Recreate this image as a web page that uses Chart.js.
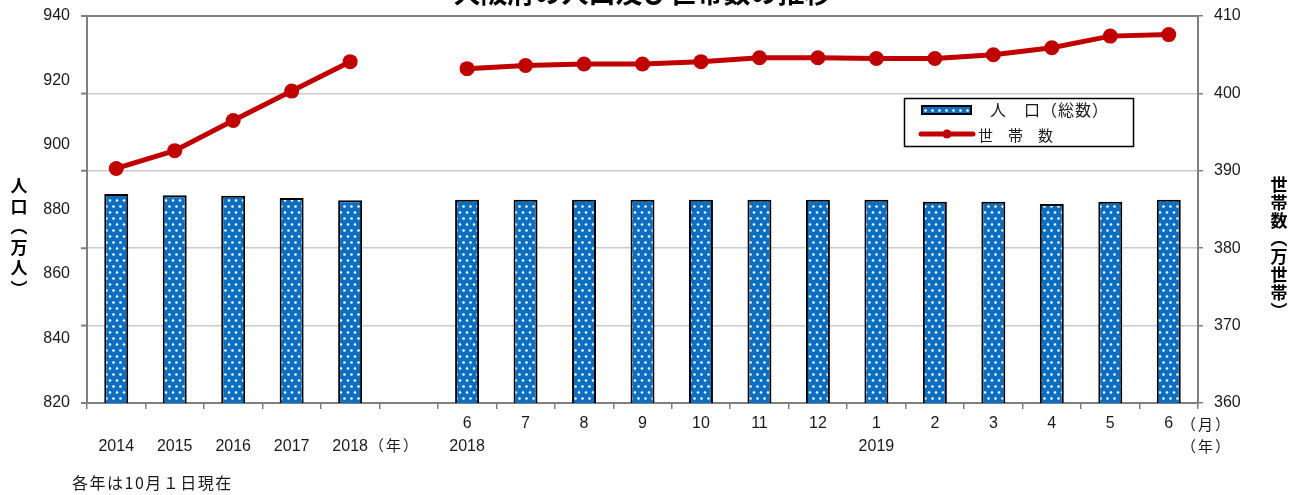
<!DOCTYPE html>
<html lang="ja">
<head>
<meta charset="UTF-8">
<title>大阪府の人口及び世帯数の推移</title>
<script src="https://cdn.jsdelivr.net/npm/chart.js@4.4.1/dist/chart.umd.min.js"></script>
<style>
  html, body { margin: 0; padding: 0; background: #fff; overflow: hidden; }
  .wrap { position: relative; width: 1290px; height: 495px; }
</style>
</head>
<body>
<div class="wrap">
  <canvas id="chart" width="1290" height="495"></canvas>
</div>
<script>
// data
const monthRow = ['', '', '', '', '', '', '6', '7', '8', '9', '10', '11', '12', '1', '2', '3', '4', '5', '6'];
const yearRow  = ['2014', '2015', '2016', '2017', '2018', '', '2018', '', '', '', '', '', '', '2019', '', '', '', '', ''];
const population = [884.8, 884.4, 884.3, 883.6, 882.9, null, 883.0, 883.0, 883.0, 883.0, 883.0, 883.0, 883.0, 883.0, 882.4, 882.4, 881.7, 882.4, 883.0];
const households = [390.3, 392.6, 396.5, 400.3, 404.1, null, 403.2, 403.6, 403.8, 403.8, 404.1, 404.6, 404.6, 404.5, 404.5, 405.0, 405.9, 407.4, 407.6];
const popAxis = { min: 820, max: 940, step: 20 };
const hhAxis = { min: 360, max: 410, step: 10 };
const leftTitle = ['人', '口', '︵', '万', '人', '︶'];
const rightTitle = ['世', '帯', '数', '︵', '万', '世', '帯', '︶'];

const numFont = "'Liberation Sans', Arial, sans-serif";
const jpFont = "'Noto Sans CJK JP', sans-serif";
const axisGray = '#7f7f7f';
const textColor = '#1a1a1a';
const barBlue = '#0b6fc1';
const lineRed = '#c00000';

// blue fill with white dots
function dotPattern() {
    const c = document.createElement('canvas');
    c.width = 7; c.height = 12;
    const g = c.getContext('2d');
    g.fillStyle = barBlue;
    g.fillRect(0, 0, 7, 12);
    g.fillStyle = '#ffffff';
    [[1.5, 2.5], [5, 8.5]].forEach(p => {
        g.beginPath();
        g.arc(p[0], p[1], 1.3, 0, Math.PI * 2);
        g.fill();
    });
    return g.createPattern(c, 'repeat');
}
const ctx = document.getElementById('chart').getContext('2d');
const dots = dotPattern();

const labels = monthRow.map((m, i) => [m, yearRow[i]]);

// title, frame bits, legend and notes
const extras = {
    id: 'extras',
    afterDraw(chart) {
        const c = chart.ctx;
        const a = chart.chartArea;
        const y1 = chart.scales.y1;
        const x = chart.scales.x;
        c.save();

        // title (clipped at the top of the page)
        c.fillStyle = '#000';
        c.font = 'bold 27px ' + jpFont;
        c.textAlign = 'center';
        c.textBaseline = 'alphabetic';
        c.fillText('大阪府の人口及び世帯数の推移', (a.left + a.right) / 2, 3);

        // vertical axis titles
        c.font = 'bold 17px ' + jpFont;
        c.textBaseline = 'middle';
        leftTitle.forEach((ch, i) => c.fillText(ch, 19, 186 + i * 20.5));
        rightTitle.forEach((ch, i) => c.fillText(ch, 1279, 185 + i * 18));

        // top frame line and left tick marks
        c.strokeStyle = axisGray;
        c.lineWidth = 2;
        c.beginPath();
        c.moveTo(a.left, a.top);
        c.lineTo(a.right, a.top);
        y1.ticks.forEach(t => {
            const py = y1.getPixelForValue(t.value);
            c.moveTo(a.left - 6, py);
            c.lineTo(a.left, py);
        });
        c.stroke();

        // legend
        const lx = 904, ly = 98, lw = 229, lh = 48;
        c.strokeStyle = '#000';
        c.lineWidth = 1.5;
        c.strokeRect(lx + 0.5, ly + 0.5, lw, lh);
        c.fillStyle = dots;
        c.fillRect(lx + 18, ly + 8, 49, 8);
        c.lineWidth = 2;
        c.strokeRect(lx + 18, ly + 8, 49, 8);
        c.strokeStyle = lineRed;
        c.lineWidth = 5;
        c.lineCap = 'round';
        c.beginPath();
        c.moveTo(lx + 17, ly + 36);
        c.lineTo(lx + 69, ly + 36);
        c.stroke();
        c.fillStyle = lineRed;
        c.beginPath();
        c.arc(lx + 43, ly + 36, 4.5, 0, Math.PI * 2);
        c.fill();
        c.fillStyle = textColor;
        c.font = '16px ' + jpFont;
        c.textAlign = 'left';
        c.letterSpacing = '1px';
        c.fillText('人　口（総数）', lx + 86, ly + 12);
        c.letterSpacing = '0px';
        c.font = '15px ' + jpFont;
        c.fillText('世　帯　数', lx + 74, ly + 37);

        // axis unit notes
        c.font = '15px ' + jpFont;
        c.letterSpacing = '2px';
        c.textAlign = 'center';
        c.fillText('（年）', x.getPixelForValue(5) - 14, a.bottom + 42);
        c.textAlign = 'left';
        c.fillText('（月）', a.right - 17, a.bottom + 21);
        c.fillText('（年）', a.right - 17, a.bottom + 43);

        // footnote
        c.font = '16px ' + jpFont;
        c.letterSpacing = '1.5px';
        c.fillText('各年は10月１日現在', 72, a.bottom + 80);
        c.restore();
    }
};

new Chart(ctx, {
    type: 'bar',
    data: {
        labels: labels,
        datasets: [{
            type: 'line',
            label: '世帯数',
            data: households,
            yAxisID: 'y1',
            borderColor: lineRed,
            backgroundColor: lineRed,
            borderWidth: 5,
            pointRadius: 7.5,
            pointBorderWidth: 0,
            spanGaps: false,
            tension: 0,
            order: 0
        }, {
            label: '人口（総数）',
            data: population,
            yAxisID: 'y',
            backgroundColor: dots,
            borderColor: '#000',
            borderWidth: 2,
            borderSkipped: false,
            barPercentage: 0.41,
            categoryPercentage: 1,
            order: 1
        }]
    },
    options: {
        responsive: false,
        animation: false,
        layout: { padding: { top: 16, left: 0, right: 0, bottom: 0 } },
        plugins: {
            legend: { display: false },
            title: { display: false },
            tooltip: { enabled: false }
        },
        scales: {
            x: {
                offset: true,
                border: { color: axisGray, width: 2 },
                grid: { offset: true, drawOnChartArea: false, drawTicks: true, tickLength: 6, color: axisGray, lineWidth: 1.5 },
                ticks: {
                    autoSkip: false,
                    maxRotation: 0,
                    padding: 3.5,
                    color: textColor,
                    font: { family: numFont, size: 16, lineHeight: '23px' }
                },
                afterFit: s => { s.height = 92; }
            },
            y: {
                position: 'left',
                min: popAxis.min,
                max: popAxis.max,
                border: { color: axisGray, width: 2 },
                grid: { display: false, drawTicks: true, tickLength: 6 },
                ticks: {
                    stepSize: popAxis.step,
                    padding: 11,
                    color: textColor,
                    font: { family: numFont, size: 16, lineHeight: 0.5 }
                },
                afterFit: s => { s.width = 87; }
            },
            y1: {
                position: 'right',
                min: hhAxis.min,
                max: hhAxis.max,
                border: { color: axisGray, width: 2 },
                grid: { color: '#cbcbcb', lineWidth: 1.5, tickColor: axisGray, tickLength: 5 },
                ticks: {
                    stepSize: hhAxis.step,
                    padding: 11,
                    color: textColor,
                    font: { family: numFont, size: 16, lineHeight: 0.5 }
                },
                afterFit: s => { s.width = 92; }
            }
        }
    },
    plugins: [extras]
});
</script>
</body>
</html>
